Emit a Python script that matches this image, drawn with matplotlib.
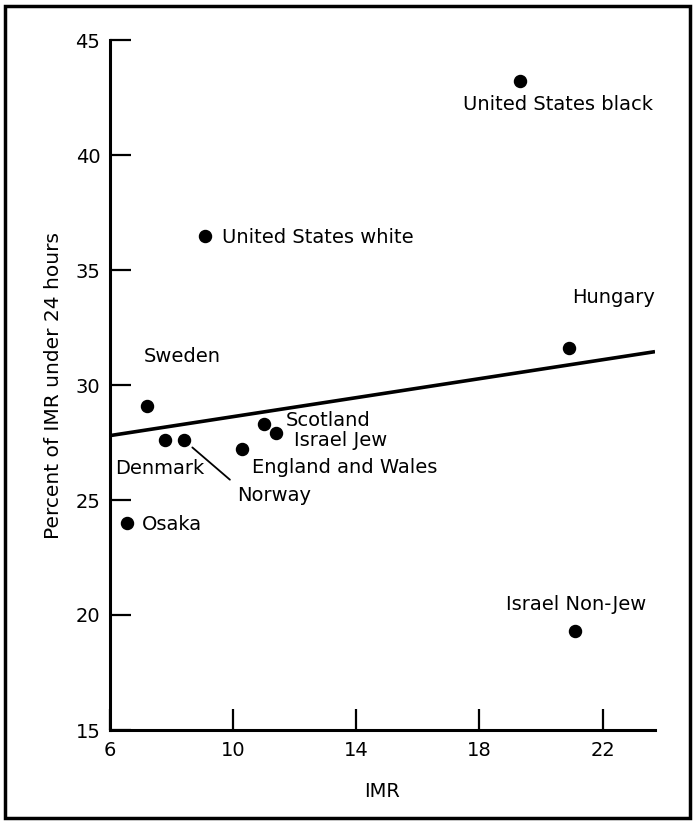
import matplotlib.pyplot as plt
import numpy as np
from matplotlib.patches import Rectangle

plt.rcParams['font.family'] = ['DejaVu Sans']

# data
countries = ['United States black', 'United States white', 'Hungary', 'Sweden',
             'Scotland', 'Israel Jew', 'Denmark', 'England and Wales', 'Norway',
             'Osaka', 'Israel Non-Jew']
imr = [19.3, 9.1, 20.9, 7.2, 11.0, 11.4, 7.8, 10.3, 8.4, 6.55, 21.1]
pct_24h = [43.2, 36.5, 31.6, 29.1, 28.3, 27.9, 27.6, 27.2, 27.6, 24.0, 19.3]

# regression line endpoints (x range, fitted y)
fit_x = [6.0, 23.7]
fit_y = [27.8, 31.45]

x_ticks = [6, 10, 14, 18, 22]
y_ticks = [15, 20, 25, 30, 35, 40, 45]

# label placement: offset in pixels from the point, horizontal alignment
label_pos = {
    'United States black': (38, -23, 'center'),
    'United States white': (17, -2, 'left'),
    'Hungary': (3, 51, 'left'),
    'Sweden': (-3, 49, 'left'),
    'Scotland': (22, 4, 'left'),
    'Israel Jew': (18, -7, 'left'),
    'Denmark': (-50, -28, 'left'),
    'England and Wales': (10, -18, 'left'),
    'Norway': (53, -55, 'left'),
    'Osaka': (15, -1, 'left'),
    'Israel Non-Jew': (1, 27, 'center'),
}

fig = plt.figure(figsize=(6.94, 8.24), dpi=100)
ax = fig.add_axes([110 / 694, 1 - 730 / 824, 545 / 694, 690 / 824])

ax.plot(fit_x, fit_y, color='black', linewidth=2.6, solid_capstyle='butt')
ax.scatter(imr, pct_24h, s=75, color='black', zorder=3)

for name, x, y in zip(countries, imr, pct_24h):
    dx, dy, ha = label_pos[name]
    if name == 'Norway':
        ax.annotate(name, (x, y), xytext=(dx, dy), textcoords='offset pixels',
                    ha=ha, va='center', fontsize=14,
                    arrowprops=dict(arrowstyle='-', color='black', lw=1.3,
                                    shrinkA=4, shrinkB=8, relpos=(0.0, 1.0)))
    else:
        ax.annotate(name, (x, y), xytext=(dx, dy), textcoords='offset pixels',
                    ha=ha, va='center', fontsize=14)

ax.set_xlim(6, 23.7)
ax.set_ylim(15, 45)
ax.set_xticks(x_ticks)
ax.set_yticks(y_ticks)
ax.spines['top'].set_visible(False)
ax.spines['right'].set_visible(False)
ax.spines['left'].set_linewidth(2.2)
ax.spines['bottom'].set_linewidth(2.2)
ax.tick_params(axis='both', direction='in', length=15, width=1.6, labelsize=14, pad=7)
ax.tick_params(axis='x', pad=8)
ax.set_xlabel('IMR', fontsize=14, labelpad=16)
ax.set_ylabel('Percent of IMR under 24 hours', fontsize=14.5, labelpad=9)

fig.patches.append(Rectangle((5 / 694, 6 / 824), 685 / 694, 812 / 824,
                             transform=fig.transFigure, fill=False,
                             edgecolor='black', linewidth=2.5))

fig.savefig('out.png', dpi=100)
